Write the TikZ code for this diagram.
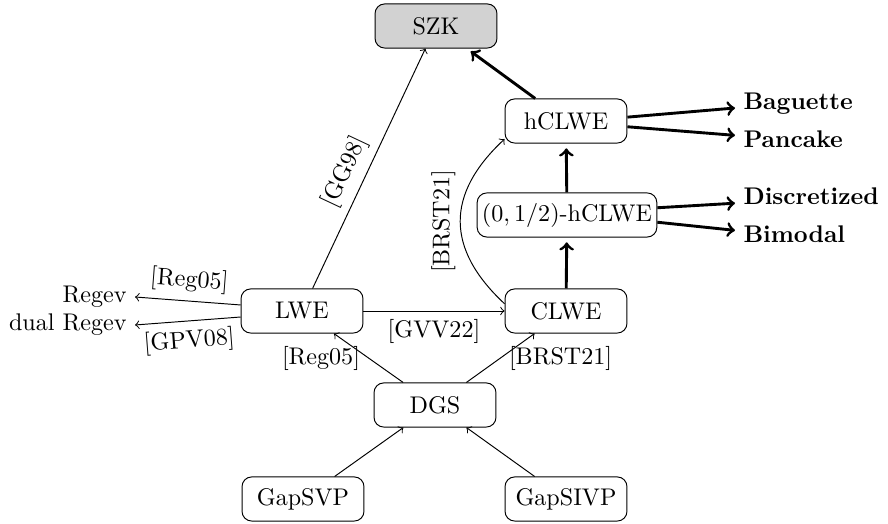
\documentclass[tikz,border=0pt]{standalone}
\usetikzlibrary{calc}
\begin{document}
\begin{tikzpicture}[x=0.415pt,y=-0.415pt,
  box/.style={draw, rounded corners=4pt, minimum width=50.6pt, minimum height=18.3pt, inner sep=2pt},
  thickarrow/.style={->, very thick},
  thickshort/.style={->, very thick, shorten >=2pt},
  outlbl/.style={font=\bfseries, anchor=base west},
  side/.style={anchor=east},
]
\useasboundingbox (0,0) rectangle (888,524);
% nodes
\node[box, fill=gray!35] (SZK) at (436,26) {SZK};
\node[box] (hCLWE) at (566,121) {hCLWE};
\node[box] (half) at (567,215) {$(0,1/2)$-hCLWE};
\node[box] (CLWE) at (566,311) {CLWE};
\node[box] (LWE) at (302,311) {LWE};
\node[box] (DGS) at (435,405) {DGS};
\node[box] (GapSVP) at (303,499) {GapSVP};
\node[box] (GapSIVP) at (566,499) {GapSIVP};
\node[side] (Regev) at (135,297) {Regev};
\node[side] (dual) at (135,325) {dual Regev};
\node[outlbl] (Baguette) at (735,110) {Baguette};
\node[outlbl] (Pancake) at (735,148) {Pancake};
\node[outlbl] (Discretized) at (735,205) {Discretized};
\node[outlbl] (Bimodal) at (735,243) {Bimodal};
% thin connectors
\draw[->] (LWE) -- (SZK) node[pos=0.45, sloped, above] {[GG98]};
\draw[->] (LWE) -- (CLWE) node[midway, below] {[GVV22]};
\draw[->] (DGS) -- (LWE) node[midway, left] {[Reg05]};
\draw[->] (DGS) -- (CLWE) node[midway, right] {[BRST21]};
\draw[->] (GapSVP) -- (DGS);
\draw[->] (GapSIVP) -- (DGS);
\draw[->] ([yshift=2.5pt]LWE.west) -- (Regev.east) node[midway, sloped, above] {[Reg05]};
\draw[->] ([yshift=-2.5pt]LWE.west) -- (dual.east) node[midway, sloped, below] {[GPV08]};
\draw[->] ([yshift=3pt]CLWE.west) .. controls +(-59,-55) and +(-59,55) .. ([yshift=-7.5pt]hCLWE.west)
  node[midway, sloped, above=-1.5pt] {[BRST21]};
% thick connectors
\draw[thickshort] (hCLWE) -- (SZK);
\draw[thickshort] (half) -- (hCLWE);
\draw[thickshort] (CLWE) -- (half);
\draw[thickarrow] ([yshift=1.6pt]hCLWE.east) -- ([yshift=-1.6pt]Baguette.west);
\draw[thickarrow] ([yshift=-2.4pt]hCLWE.east) -- ([yshift=1.8pt]Pancake.west);
\draw[thickarrow] ([yshift=3pt]half.east) -- ([yshift=-2.7pt]Discretized.west);
\draw[thickarrow] ([yshift=-3pt]half.east) -- ([yshift=1.8pt]Bimodal.west);
\end{tikzpicture}
\end{document}
